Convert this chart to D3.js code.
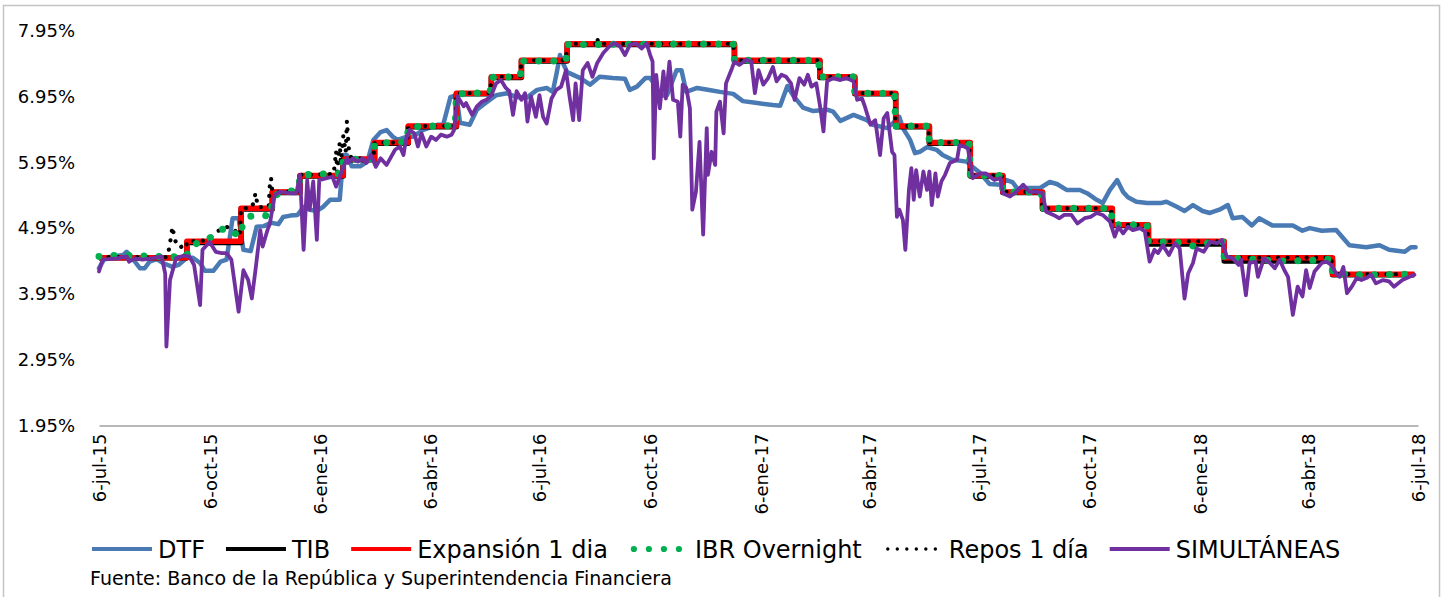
<!DOCTYPE html>
<html>
<head>
<meta charset="utf-8">
<script src="https://cdn.jsdelivr.net/npm/d3@7"></script>
<style>
  body { margin: 0; background: #fff; }
  svg { display: block; font-family: "DejaVu Sans", sans-serif; }
</style>
</head>
<body>
<svg width="1444" height="597"></svg>
<script>
// ---- data ----
const xTickDates = ["2015-07-06","2015-10-06","2016-01-06","2016-04-06","2016-07-06","2016-10-06",
  "2017-01-06","2017-04-06","2017-07-06","2017-10-06","2018-01-06","2018-04-06","2018-07-06"];
const xTickLabels = ["6-jul-15","6-oct-15","6-ene-16","6-abr-16","6-jul-16","6-oct-16",
  "6-ene-17","6-abr-17","6-jul-17","6-oct-17","6-ene-18","6-abr-18","6-jul-18"];
const yTicks = [1.95, 2.95, 3.95, 4.95, 5.95, 6.95, 7.95];
const yTickLabels = ["1.95%","2.95%","3.95%","4.95%","5.95%","6.95%","7.95%"];

const seriesNames = ["DTF", "TIB", "Expansión 1 dia", "IBR Overnight", "Repos 1 día", "SIMULTÁNEAS"];

const dtf = [["2015-07-06",4.34],["2015-07-11",4.50],["2015-07-26",4.54],["2015-07-29",4.59],["2015-08-02",4.51],["2015-08-09",4.34],["2015-08-13",4.34],["2015-08-17",4.44],["2015-08-23",4.48],["2015-08-28",4.42],["2015-09-05",4.36],["2015-09-10",4.39],["2015-09-17",4.50],["2015-09-22",4.50],["2015-09-28",4.42],["2015-10-02",4.30],["2015-10-09",4.30],["2015-10-15",4.44],["2015-10-20",4.47],["2015-10-25",5.10],["2015-10-30",5.10],["2015-11-03",4.62],["2015-11-09",4.60],["2015-11-14",4.97],["2015-11-20",4.98],["2015-11-26",5.03],["2015-12-02",5.01],["2015-12-06",5.12],["2015-12-12",5.14],["2015-12-18",5.15],["2015-12-23",5.27],["2015-12-28",5.23],["2016-01-03",5.21],["2016-01-08",5.27],["2016-01-14",5.38],["2016-01-22",5.38],["2016-01-25",6.06],["2016-01-28",6.06],["2016-02-01",5.89],["2016-02-08",5.89],["2016-02-14",5.96],["2016-02-19",6.29],["2016-02-25",6.41],["2016-03-01",6.44],["2016-03-06",6.34],["2016-03-10",6.29],["2016-03-18",6.34],["2016-03-23",6.34],["2016-03-31",6.44],["2016-04-12",6.52],["2016-04-17",6.52],["2016-04-23",6.94],["2016-04-28",6.97],["2016-05-01",6.55],["2016-05-09",6.52],["2016-05-15",6.75],["2016-05-20",6.82],["2016-05-31",6.97],["2016-06-09",7.00],["2016-06-17",6.94],["2016-06-26",6.94],["2016-07-04",7.05],["2016-07-12",7.08],["2016-07-17",7.02],["2016-07-20",7.28],["2016-07-23",7.58],["2016-07-25",7.48],["2016-07-29",7.32],["2016-08-09",7.23],["2016-08-17",7.13],["2016-08-25",7.25],["2016-09-05",7.23],["2016-09-15",7.22],["2016-09-19",7.05],["2016-09-25",7.10],["2016-10-02",7.23],["2016-10-06",7.23],["2016-10-10",7.13],["2016-10-14",6.96],["2016-10-20",6.97],["2016-10-28",7.35],["2016-11-01",7.35],["2016-11-05",7.02],["2016-11-14",7.08],["2016-11-24",7.05],["2016-12-03",7.02],["2016-12-14",6.99],["2016-12-22",6.88],["2017-01-03",6.85],["2017-01-16",6.82],["2017-01-22",6.81],["2017-01-28",7.11],["2017-02-02",6.96],["2017-02-10",6.78],["2017-02-18",6.73],["2017-03-02",6.75],["2017-03-07",6.72],["2017-03-13",6.58],["2017-03-24",6.67],["2017-04-04",6.59],["2017-04-09",6.52],["2017-04-21",6.47],["2017-04-26",6.55],["2017-05-01",6.64],["2017-05-04",6.47],["2017-05-10",6.29],["2017-05-14",6.09],["2017-05-18",6.11],["2017-05-24",6.18],["2017-06-01",6.14],["2017-06-06",6.06],["2017-06-14",5.99],["2017-06-26",5.96],["2017-07-01",5.88],["2017-07-07",5.79],["2017-07-15",5.62],["2017-07-24",5.61],["2017-07-29",5.68],["2017-08-03",5.65],["2017-08-07",5.55],["2017-08-15",5.56],["2017-08-26",5.56],["2017-09-03",5.65],["2017-09-09",5.62],["2017-09-17",5.53],["2017-09-28",5.53],["2017-10-04",5.48],["2017-10-12",5.38],["2017-10-17",5.33],["2017-10-23",5.53],["2017-10-29",5.68],["2017-11-03",5.50],["2017-11-07",5.42],["2017-11-14",5.35],["2017-11-23",5.33],["2017-12-04",5.33],["2017-12-09",5.35],["2017-12-18",5.27],["2017-12-24",5.21],["2017-12-31",5.30],["2018-01-08",5.21],["2018-01-14",5.18],["2018-01-22",5.23],["2018-01-29",5.30],["2018-02-02",5.10],["2018-02-10",5.12],["2018-02-18",4.99],["2018-02-24",5.10],["2018-03-07",4.99],["2018-03-24",4.99],["2018-04-01",4.91],["2018-04-07",4.95],["2018-04-17",4.91],["2018-04-29",4.92],["2018-05-10",4.69],["2018-05-24",4.66],["2018-06-04",4.69],["2018-06-12",4.62],["2018-06-25",4.59],["2018-06-30",4.66],["2018-07-04",4.66]];

// step series: value holds from its date until the next one
const tib = [["2015-07-06",4.50],["2015-09-17",4.73],["2015-11-01",5.24],["2015-11-27",5.49],["2015-12-20",5.74],["2016-01-25",5.99],["2016-02-20",6.24],["2016-03-19",6.49],["2016-04-28",6.99],["2016-05-27",7.24],["2016-06-21",7.49],["2016-07-29",7.74],["2016-12-15",7.49],["2017-02-24",7.24],["2017-03-25",6.99],["2017-04-28",6.49],["2017-05-26",6.24],["2017-06-29",5.74],["2017-07-26",5.49],["2017-08-28",5.24],["2017-10-25",4.99],["2017-11-24",4.71],["2018-01-26",4.45],["2018-04-26",4.24],["2018-07-03",4.24]];

const expansion = [["2015-07-06",4.50],["2015-09-17",4.75],["2015-11-01",5.25],["2015-11-27",5.50],["2015-12-20",5.75],["2016-01-25",6.00],["2016-02-20",6.25],["2016-03-19",6.50],["2016-04-28",7.00],["2016-05-27",7.25],["2016-06-21",7.50],["2016-07-29",7.75],["2016-12-15",7.50],["2017-02-24",7.25],["2017-03-25",7.00],["2017-04-28",6.50],["2017-05-26",6.25],["2017-06-29",5.75],["2017-07-26",5.50],["2017-08-28",5.25],["2017-10-25",5.00],["2017-11-24",4.75],["2018-01-26",4.50],["2018-04-26",4.25],["2018-07-03",4.25]];

const ibr = [["2015-07-06",4.52],["2015-07-25",4.54],["2015-08-20",4.52],["2015-09-16",4.51],["2015-09-21",4.69],["2015-09-29",4.74],["2015-10-06",4.80],["2015-10-16",4.93],["2015-10-22",4.95],["2015-10-27",4.87],["2015-10-31",4.82],["2015-11-03",5.05],["2015-11-09",5.13],["2015-11-17",5.15],["2015-11-26",5.13],["2015-11-27",5.42],["2015-12-05",5.50],["2015-12-16",5.52],["2015-12-19",5.55],["2015-12-20",5.76],["2016-01-24",5.78],["2016-01-25",5.99],["2016-02-19",6.01],["2016-02-20",6.24],["2016-03-18",6.26],["2016-03-19",6.49],["2016-04-27",6.51],["2016-04-28",6.99],["2016-05-26",7.01],["2016-05-27",7.24],["2016-06-20",7.25],["2016-06-21",7.49],["2016-07-28",7.49],["2016-07-29",7.74],["2016-12-14",7.75],["2016-12-15",7.50],["2017-02-23",7.50],["2017-02-24",7.25],["2017-03-24",7.25],["2017-03-25",7.00],["2017-04-27",7.00],["2017-04-28",6.50],["2017-05-25",6.50],["2017-05-26",6.25],["2017-06-28",6.25],["2017-06-29",5.75],["2017-07-25",5.75],["2017-07-26",5.50],["2017-08-27",5.50],["2017-08-28",5.25],["2017-10-24",5.25],["2017-10-25",5.00],["2017-11-23",5.00],["2017-11-24",4.75],["2017-12-20",4.73],["2017-12-31",4.68],["2018-01-10",4.72],["2018-01-25",4.74],["2018-01-26",4.50],["2018-02-15",4.48],["2018-03-15",4.45],["2018-04-10",4.46],["2018-04-25",4.48],["2018-04-26",4.26],["2018-05-20",4.24],["2018-07-03",4.25]];

const repos = [["2015-07-06",4.51],["2015-09-01",4.51],["2015-09-03",4.72],["2015-09-05",4.97],["2015-09-07",4.78],["2015-09-09",4.68],["2015-09-12",4.68],["2015-09-14",4.60],["2015-09-16",4.55],["2015-09-17",4.75],["2015-10-01",4.76],["2015-10-06",4.80],["2015-10-16",4.95],["2015-10-22",4.97],["2015-10-28",4.90],["2015-10-31",4.84],["2015-11-01",5.25],["2015-11-10",5.26],["2015-11-12",5.38],["2015-11-13",5.48],["2015-11-15",5.27],["2015-11-24",5.27],["2015-11-25",5.63],["2015-11-26",5.71],["2015-11-27",5.50],["2015-12-19",5.51],["2015-12-20",5.76],["2016-01-17",5.77],["2016-01-19",6.12],["2016-01-20",5.80],["2016-01-22",6.25],["2016-01-23",5.95],["2016-01-25",6.35],["2016-01-27",6.10],["2016-01-28",6.58],["2016-01-30",6.05],["2016-02-02",6.01],["2016-02-19",6.01],["2016-02-20",6.25],["2016-03-18",6.25],["2016-03-19",6.50],["2016-04-27",6.50],["2016-04-28",7.00],["2016-05-26",7.00],["2016-05-27",7.25],["2016-06-20",7.25],["2016-06-21",7.50],["2016-07-28",7.50],["2016-07-29",7.75],["2016-08-22",7.75],["2016-08-23",7.84],["2016-08-24",7.75],["2016-12-14",7.75],["2016-12-15",7.50],["2017-02-23",7.50],["2017-02-24",7.25],["2017-03-24",7.25],["2017-03-25",7.00],["2017-04-27",7.00],["2017-04-28",6.50],["2017-05-25",6.50],["2017-05-26",6.25],["2017-06-28",6.25],["2017-06-29",5.75],["2017-07-25",5.75],["2017-07-26",5.50],["2017-08-27",5.50],["2017-08-28",5.25],["2017-10-24",5.25],["2017-10-25",5.00],["2017-11-23",5.00],["2017-11-24",4.75],["2018-01-25",4.75],["2018-01-26",4.50],["2018-04-25",4.50],["2018-04-26",4.25],["2018-07-03",4.25]];

const simultaneas = [["2015-07-06",4.29],["2015-07-09",4.47],["2015-07-21",4.49],["2015-07-29",4.52],["2015-07-31",4.44],["2015-08-05",4.49],["2015-08-11",4.47],["2015-08-19",4.49],["2015-08-27",4.52],["2015-08-30",4.26],["2015-08-31",3.15],["2015-09-03",4.16],["2015-09-08",4.49],["2015-09-14",4.53],["2015-09-19",4.52],["2015-09-23",4.39],["2015-09-28",3.78],["2015-09-30",4.62],["2015-10-06",4.74],["2015-10-11",4.59],["2015-10-16",4.57],["2015-10-20",4.57],["2015-10-24",4.47],["2015-10-30",3.68],["2015-11-03",4.31],["2015-11-07",4.16],["2015-11-10",3.88],["2015-11-13",4.31],["2015-11-17",4.92],["2015-11-19",4.67],["2015-11-23",4.92],["2015-11-25",5.02],["2015-11-29",5.45],["2015-12-03",5.50],["2015-12-12",5.48],["2015-12-17",5.48],["2015-12-20",5.76],["2015-12-23",4.62],["2015-12-26",5.68],["2015-12-28",5.23],["2015-12-31",5.66],["2016-01-03",4.77],["2016-01-05",5.68],["2016-01-16",5.73],["2016-01-19",5.58],["2016-01-22",5.73],["2016-01-28",6.01],["2016-01-29",5.94],["2016-02-02",6.01],["2016-02-06",5.96],["2016-02-10",6.01],["2016-02-13",5.94],["2016-02-17",6.06],["2016-02-21",5.88],["2016-02-25",6.01],["2016-03-01",5.91],["2016-03-04",6.01],["2016-03-08",6.14],["2016-03-12",6.19],["2016-03-15",6.06],["2016-03-17",6.29],["2016-03-20",6.44],["2016-03-24",6.39],["2016-03-27",6.19],["2016-03-30",6.39],["2016-04-03",6.19],["2016-04-07",6.34],["2016-04-11",6.29],["2016-04-15",6.37],["2016-04-20",6.34],["2016-04-24",6.37],["2016-04-26",6.44],["2016-04-29",6.95],["2016-05-04",6.80],["2016-05-06",6.85],["2016-05-11",6.67],["2016-05-15",6.80],["2016-05-19",6.87],["2016-05-23",6.90],["2016-05-27",6.97],["2016-05-31",7.15],["2016-06-04",7.20],["2016-06-08",7.08],["2016-06-11",7.03],["2016-06-14",6.67],["2016-06-17",7.03],["2016-06-21",6.90],["2016-06-24",7.00],["2016-06-26",6.57],["2016-06-29",6.95],["2016-07-03",6.64],["2016-07-06",6.97],["2016-07-09",6.64],["2016-07-12",6.54],["2016-07-16",6.92],["2016-07-20",7.05],["2016-07-24",7.10],["2016-07-28",7.35],["2016-07-31",6.95],["2016-08-03",6.59],["2016-08-05",7.15],["2016-08-08",6.59],["2016-08-11",7.35],["2016-08-15",7.46],["2016-08-19",7.25],["2016-08-23",7.46],["2016-08-28",7.61],["2016-09-02",7.71],["2016-09-06",7.76],["2016-09-11",7.71],["2016-09-15",7.58],["2016-09-19",7.73],["2016-09-24",7.76],["2016-09-29",7.68],["2016-10-03",7.76],["2016-10-06",7.58],["2016-10-08",7.48],["2016-10-09",6.01],["2016-10-11",7.28],["2016-10-14",6.77],["2016-10-17",7.33],["2016-10-19",6.92],["2016-10-22",7.48],["2016-10-25",6.90],["2016-10-29",6.87],["2016-10-31",6.34],["2016-11-02",7.13],["2016-11-05",7.08],["2016-11-08",6.77],["2016-11-10",5.23],["2016-11-13",5.50],["2016-11-16",6.26],["2016-11-19",4.85],["2016-11-22",6.47],["2016-11-23",5.76],["2016-11-26",6.11],["2016-11-29",5.91],["2016-11-30",6.72],["2016-12-03",6.87],["2016-12-06",6.39],["2016-12-08",7.15],["2016-12-13",7.38],["2016-12-15",7.48],["2016-12-19",7.43],["2016-12-25",7.51],["2016-12-29",7.48],["2017-01-01",7.00],["2017-01-04",7.35],["2017-01-08",7.13],["2017-01-12",7.23],["2017-01-16",7.40],["2017-01-19",7.18],["2017-01-23",7.28],["2017-01-27",7.25],["2017-01-31",7.15],["2017-02-03",6.90],["2017-02-07",7.23],["2017-02-11",7.13],["2017-02-14",7.28],["2017-02-17",7.10],["2017-02-21",7.15],["2017-02-24",6.82],["2017-02-27",6.42],["2017-03-02",7.18],["2017-03-07",7.23],["2017-03-13",7.20],["2017-03-18",7.23],["2017-03-24",7.18],["2017-03-27",6.90],["2017-03-31",6.92],["2017-04-02",6.82],["2017-04-07",6.52],["2017-04-11",6.59],["2017-04-15",6.06],["2017-04-18",6.62],["2017-04-21",6.70],["2017-04-25",6.11],["2017-04-27",6.06],["2017-04-29",5.12],["2017-05-01",5.23],["2017-05-04",5.07],["2017-05-06",4.62],["2017-05-09",5.53],["2017-05-11",5.86],["2017-05-13",5.38],["2017-05-15",5.83],["2017-05-18",5.43],["2017-05-21",5.81],["2017-05-24",5.53],["2017-05-26",5.81],["2017-05-28",5.30],["2017-05-31",5.78],["2017-06-02",5.43],["2017-06-05",5.66],["2017-06-08",5.76],["2017-06-12",5.94],["2017-06-18",5.99],["2017-06-20",6.21],["2017-06-24",6.19],["2017-06-27",6.16],["2017-07-01",5.71],["2017-07-07",5.78],["2017-07-12",5.78],["2017-07-19",5.68],["2017-07-24",5.71],["2017-07-26",5.48],["2017-08-01",5.43],["2017-08-06",5.50],["2017-08-12",5.61],["2017-08-17",5.50],["2017-08-23",5.50],["2017-08-28",5.48],["2017-08-31",5.20],["2017-09-06",5.15],["2017-09-11",5.10],["2017-09-15",5.15],["2017-09-21",5.15],["2017-09-26",5.02],["2017-10-02",5.10],["2017-10-07",5.12],["2017-10-12",5.18],["2017-10-17",5.15],["2017-10-23",5.05],["2017-10-27",4.82],["2017-10-30",4.97],["2017-11-03",4.87],["2017-11-07",4.97],["2017-11-11",4.92],["2017-11-17",4.95],["2017-11-21",4.90],["2017-11-25",4.44],["2017-11-29",4.62],["2017-12-02",4.57],["2017-12-06",4.69],["2017-12-11",4.54],["2017-12-16",4.72],["2017-12-20",4.64],["2017-12-24",3.88],["2017-12-27",4.26],["2017-12-31",4.42],["2018-01-03",4.64],["2018-01-09",4.59],["2018-01-14",4.74],["2018-01-20",4.72],["2018-01-24",4.77],["2018-01-28",4.52],["2018-02-02",4.49],["2018-02-07",4.39],["2018-02-09",4.47],["2018-02-13",3.93],["2018-02-16",4.42],["2018-02-21",4.44],["2018-02-23",4.21],["2018-02-28",4.49],["2018-03-05",4.42],["2018-03-09",4.34],["2018-03-13",4.47],["2018-03-17",4.31],["2018-03-20",4.21],["2018-03-24",3.63],["2018-03-28",4.06],["2018-04-01",3.91],["2018-04-04",4.31],["2018-04-07",4.04],["2018-04-11",4.29],["2018-04-17",4.42],["2018-04-21",4.44],["2018-04-25",4.39],["2018-04-29",4.26],["2018-05-02",4.21],["2018-05-05",4.36],["2018-05-08",3.96],["2018-05-12",4.06],["2018-05-16",4.19],["2018-05-20",4.16],["2018-05-24",4.19],["2018-05-28",4.24],["2018-06-01",4.11],["2018-06-07",4.16],["2018-06-12",4.14],["2018-06-16",4.06],["2018-06-23",4.16],["2018-06-29",4.21],["2018-07-03",4.24]];

const source = "Fuente: Banco de la República y Superintendencia Financiera";

function drawChart() {

    const svg = d3.select("svg");
    svg.selectAll("*").remove();

    const parse = d3.timeParse("%Y-%m-%d");

    const x = d3.scaleTime()
        .domain([parse(xTickDates[0]), parse(xTickDates[xTickDates.length - 1])])
        .range([99, 1418]);

    const y = d3.scaleLinear()
        .domain([1.95, 7.95])
        .range([425.5, 30.7]);

    // outer chart frame (top is cropped in the original)
    svg.append("rect")
        .attr("x", 3.5).attr("y", 5.5)
        .attr("width", 1436).attr("height", 620)
        .attr("fill", "none")
        .attr("stroke", "#c4c4c4")
        .attr("stroke-width", 1.5);

    // y axis: labels only
    const yAxis = svg.append("g")
        .attr("transform", "translate(99,0)")
        .call(d3.axisLeft(y)
            .tickValues(yTicks)
            .tickFormat((d, i) => yTickLabels[i])
            .tickSize(0)
            .tickPadding(24));
    yAxis.select(".domain").remove();
    yAxis.selectAll("text")
        .attr("font-family", "DejaVu Sans, sans-serif")
        .attr("font-size", 18)
        .attr("fill", "#000");

    // x axis with rotated date labels
    const xAxis = svg.append("g")
        .attr("transform", `translate(0,${y(1.95)})`)
        .call(d3.axisBottom(x)
            .tickValues(xTickDates.map(parse))
            .tickFormat((d, i) => xTickLabels[i])
            .tickSize(0)
            .tickSizeOuter(0));
    xAxis.select(".domain")
        .attr("stroke", "#a0a0a0")
        .attr("stroke-width", 1.5);
    xAxis.selectAll("text")
        .attr("font-family", "DejaVu Sans, sans-serif")
        .attr("font-size", 18)
        .attr("fill", "#000")
        .attr("transform", "rotate(-90)")
        .attr("text-anchor", "end")
        .attr("x", -8)
        .attr("y", 0)
        .attr("dy", "0.35em");

    const line = d3.line()
        .x(d => x(parse(d[0])))
        .y(d => y(d[1]));
    const stepLine = d3.line()
        .curve(d3.curveStepAfter)
        .x(d => x(parse(d[0])))
        .y(d => y(d[1]));

    // series styles (legend order)
    const series = [
        { data: dtf,         gen: line,     color: "#4a7ab4", width: 4.5, dash: null,        cap: "round" },
        { data: tib,         gen: stepLine, color: "#000000", width: 5.5, dash: null,        cap: "butt" },
        { data: expansion,   gen: stepLine, color: "#ff0000", width: 5.5, dash: null,        cap: "butt" },
        { data: ibr,         gen: line,     color: "#00b050", width: 7,   dash: "0.01 15",   cap: "round" },
        { data: repos,       gen: line,     color: "#000000", width: 4.2, dash: "0.01 9.5",  cap: "round" },
        { data: simultaneas, gen: line,     color: "#7030a0", width: 3.8, dash: null,        cap: "round" }
    ];
    // green dots sit above the black repo dots, purple on top of all
    const drawOrder = [0, 1, 2, 4, 3, 5];

    const plot = svg.append("g").attr("class", "lines");
    drawOrder.forEach(k => {
        const s = series[k];
        plot.append("path")
            .datum(s.data)
            .attr("d", s.gen)
            .attr("fill", "none")
            .attr("stroke", s.color)
            .attr("stroke-width", s.width)
            .attr("stroke-linejoin", "round")
            .attr("stroke-linecap", s.cap)
            .attr("stroke-dasharray", s.dash);
    });

    // legend row
    const legend = svg.append("g").attr("class", "legend");
    const legendY = 549;
    let lx = 92;
    series.forEach((s, i) => {
        const dotted = s.dash !== null;
        legend.append("line")
            .attr("x1", dotted ? lx + 5 : lx)
            .attr("x2", lx + 60)
            .attr("y1", legendY).attr("y2", legendY)
            .attr("stroke", s.color)
            .attr("stroke-width", dotted ? s.width - 0.8 : 4)
            .attr("stroke-linecap", dotted ? "round" : "butt")
            .attr("stroke-dasharray", s.dash);
        const t = legend.append("text")
            .attr("x", lx + 66)
            .attr("y", legendY)
            .attr("dy", "0.36em")
            .attr("font-family", "DejaVu Sans, sans-serif")
            .attr("font-size", 24)
            .attr("fill", "#000")
            .text(seriesNames[i]);
        lx += 66 + t.node().getComputedTextLength() + 21;
    });

    svg.append("text")
        .attr("x", 90)
        .attr("y", 578)
        .attr("dy", "0.36em")
        .attr("font-family", "DejaVu Sans, sans-serif")
        .attr("font-size", 19)
        .attr("fill", "#000")
        .text(source);
}

document.addEventListener('DOMContentLoaded', function() {
    drawChart();
});
</script>
</body>
</html>
